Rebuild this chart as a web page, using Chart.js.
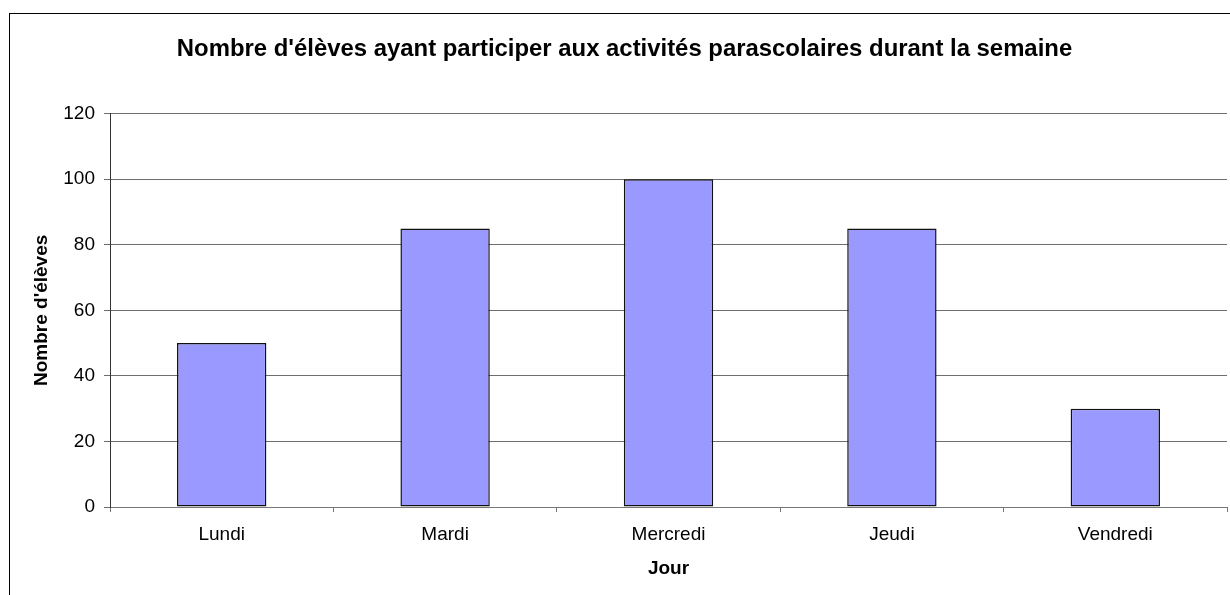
<!DOCTYPE html>
<html>
<head>
<meta charset="utf-8">
<script src="https://cdn.jsdelivr.net/npm/chart.js@4/dist/chart.umd.min.js"></script>
<style>
  html, body { margin: 0; padding: 0; background: #fff; overflow: hidden; }
  #frame { position: absolute; left: 9px; top: 13px; width: 1300px; height: 700px; border: 1px solid #000; }
  #chart { position: absolute; left: 0; top: 0; }
</style>
</head>
<body>
<div id="frame"></div>
<canvas id="chart" width="1230" height="595"></canvas>
<script>
const jours = ['Lundi', 'Mardi', 'Mercredi', 'Jeudi', 'Vendredi'];
const eleves = [50, 85, 100, 85, 30];
const yMin = 0;
const yMax = 120;
const yStep = 20;

const titre = "Nombre d'élèves ayant participer aux activités parascolaires durant la semaine";
const titreX = 'Jour';
const titreY = "Nombre d'élèves";

const police = "'Liberation Sans', Arial, sans-serif";

new Chart(document.getElementById('chart'), {
  type: 'bar',
  data: {
    labels: jours,
    datasets: [
      {
        data: eleves,
        backgroundColor: '#9999ff',
        borderColor: '#111',
        borderWidth: 1.5,
        borderSkipped: false,
        barPercentage: 0.4,
        categoryPercentage: 1,
      },
    ],
  },
  options: {
    responsive: false,
    animation: false,
    layout: { padding: { left: 22, right: 3, top: 0, bottom: 0 } },
    plugins: {
      legend: { display: false },
      tooltip: { enabled: false },
      title: {
        display: true,
        text: titre,
        color: '#000',
        font: { family: police, size: 23.9, weight: 'bold' },
        padding: { top: 35, bottom: 50 },
      },
    },
    scales: {
      x: {
        grid: {
          drawOnChartArea: false,
          drawTicks: true,
          tickLength: 5,
          offset: true,
          color: '#777',
        },
        border: { color: '#777' },
        ticks: {
          color: '#000',
          padding: 11,
          font: { family: police, size: 19 },
        },
        title: {
          display: true,
          text: titreX,
          color: '#000',
          font: { family: police, size: 19, weight: 'bold' },
          padding: { top: 0, bottom: 14.5 },
        },
        afterFit: (s) => { s.height = 88; },
      },
      y: {
        min: yMin,
        max: yMax,
        ticks: {
          stepSize: yStep,
          color: '#000',
          padding: 9,
          font: { family: police, size: 19 },
        },
        grid: { color: '#6e6e6e', tickLength: 6 },
        border: { color: '#333' },
        title: {
          display: true,
          text: titreY,
          color: '#000',
          font: { family: police, size: 19, weight: 'bold' },
          padding: { top: 8.5, bottom: 0 },
        },
        afterFit: (s) => { s.width = 88; },
      },
    },
  },
});
</script>
</body>
</html>
